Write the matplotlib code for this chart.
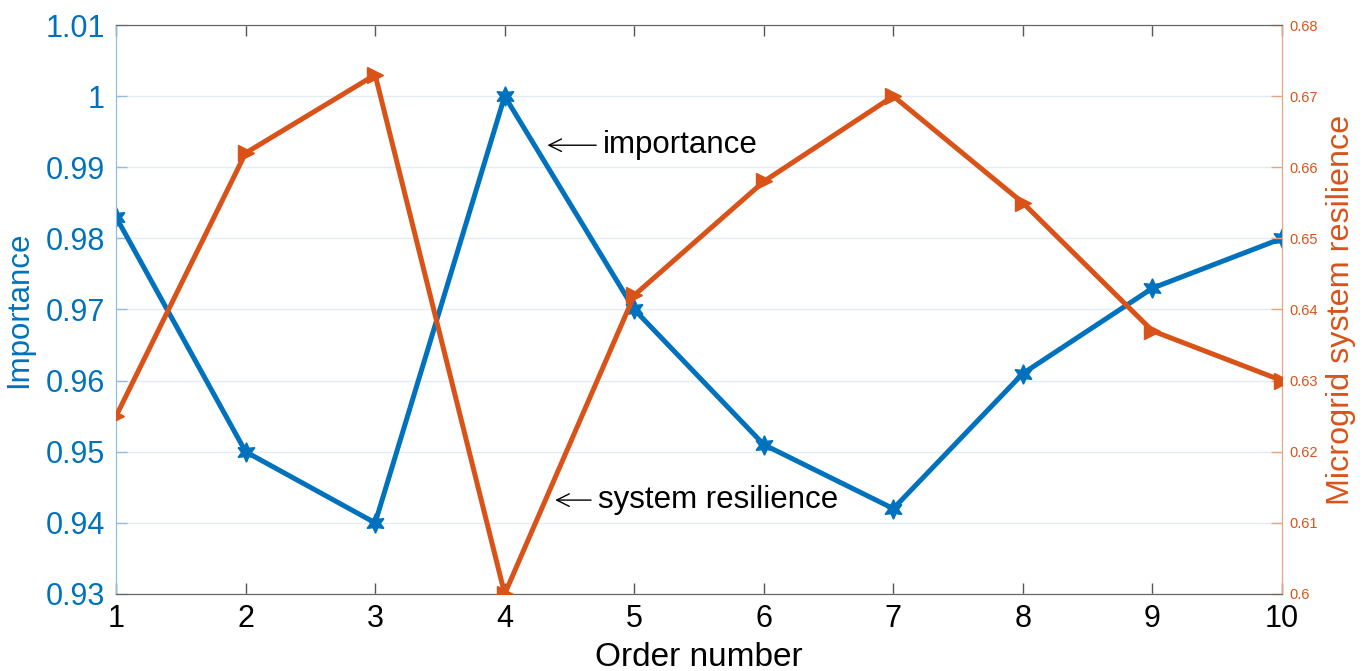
import matplotlib.pyplot as plt

plt.rcParams['font.family'] = ['Liberation Sans', 'DejaVu Sans']

# data
order = [1, 2, 3, 4, 5, 6, 7, 8, 9, 10]
importance = [0.983, 0.950, 0.940, 1.000, 0.970, 0.951, 0.942, 0.961, 0.973, 0.980]
resilience = [0.625, 0.662, 0.673, 0.600, 0.642, 0.658, 0.670, 0.655, 0.637, 0.630]

left_ticks = [0.93, 0.94, 0.95, 0.96, 0.97, 0.98, 0.99, 1, 1.01]
left_labels = ['0.93', '0.94', '0.95', '0.96', '0.97', '0.98', '0.99', '1', '1.01']
right_ticks = [0.6, 0.61, 0.62, 0.63, 0.64, 0.65, 0.66, 0.67, 0.68]
right_labels = ['0.6', '0.61', '0.62', '0.63', '0.64', '0.65', '0.66', '0.67', '0.68']

blue = '#0072BD'
orange = '#D95319'

fig = plt.figure(figsize=(13.67, 6.71), dpi=100)
ax = fig.add_axes([0.0849, 0.1148, 0.8529, 0.8479])
ax2 = ax.twinx()

# grid behind the lines
ax.set_yticks(left_ticks)
ax.set_yticklabels(left_labels)
ax.grid(axis='y', color='#e3ecf4', lw=1)
ax.set_axisbelow(True)

ax.plot(order, importance, color=blue, lw=3.6, marker=(6, 1, 0), ms=14, zorder=3)
ax2.plot(order, resilience, color=orange, lw=3.6, marker='>', ms=12, zorder=3)

ax.set_xlim(1, 10)
ax.set_ylim(0.93, 1.01)
ax2.set_ylim(0.6, 0.68)
ax2.set_yticks(right_ticks)
ax2.set_yticklabels(right_labels)

ax.set_xticks(order)
ax.tick_params(axis='x', direction='in', length=8, width=1, color='#555555',
               labelsize=22, pad=7, top=True)
ax.tick_params(axis='y', direction='in', length=8, width=1, color='#8fbde0',
               labelcolor=blue, labelsize=22, pad=8)
ax2.tick_params(axis='y', direction='in', length=8, width=1, color='#e6a585',
                labelcolor=orange, labelsize=10.5, pad=5)

for a in (ax, ax2):
    a.spines['top'].set_color('#666666')
    a.spines['bottom'].set_color('#666666')
    a.spines['left'].set_color('#8fbde0')
    a.spines['right'].set_color('#e6a585')

ax.set_xlabel('Order number', fontsize=24, labelpad=6)
ax.set_ylabel('Importance', fontsize=22.5, color=blue, labelpad=8)
ax2.set_ylabel('Microgrid system resilience', fontsize=23.3, color=orange, labelpad=6)

ax.annotate('importance', xy=(4.33, 0.9931), xytext=(4.76, 0.9931),
            fontsize=22.5, va='center', ha='left',
            arrowprops=dict(arrowstyle='->', color='black', lw=1, shrinkA=3, shrinkB=0))
ax.annotate('system resilience', xy=(4.39, 0.9432), xytext=(4.72, 0.9432),
            fontsize=22.5, va='center', ha='left',
            arrowprops=dict(arrowstyle='->', color='black', lw=1, shrinkA=3, shrinkB=0))

fig.savefig('out.png', dpi=100)
